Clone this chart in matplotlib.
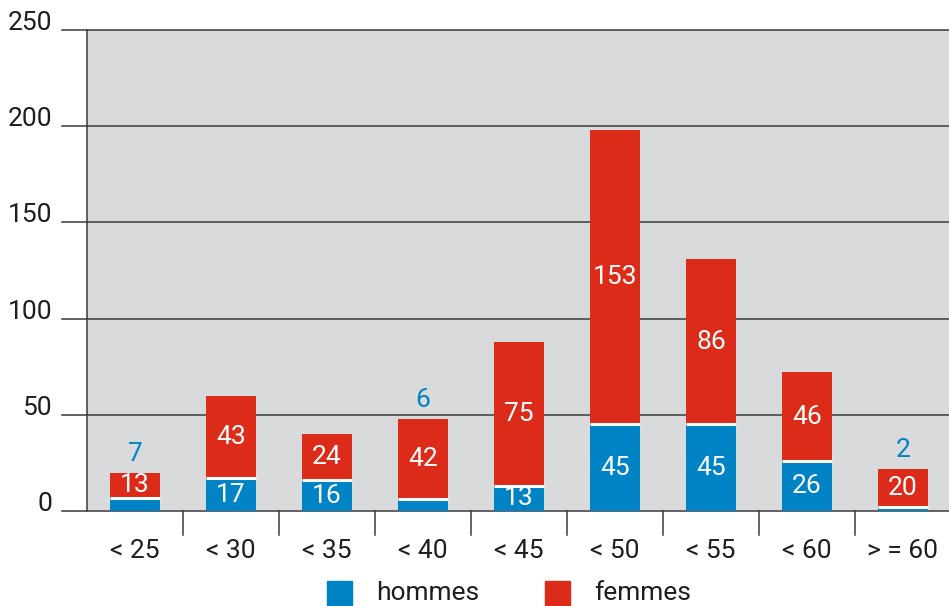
import matplotlib.pyplot as plt
from matplotlib.patches import Rectangle


# Data
CATEGORIES = ["< 25", "< 30", "< 35", "< 40", "< 45", "< 50", "< 55", "< 60", "> = 60"]
HOMMES = [7, 17, 16, 6, 13, 45, 45, 26, 2]
FEMMES = [13, 43, 24, 42, 75, 153, 86, 46, 20]
Y_TICKS = [0, 50, 100, 150, 200, 250]

BLUE = "#0083c4"
RED = "#dc2c19"
GRAY = "#d9dadc"
LINE = "#3a3a3a"
TEXT = "#1e1e1e"
FONT = 19
BAR_W = 0.52

plt.rcParams["font.family"] = ["Roboto", "Liberation Sans", "DejaVu Sans"]

W, H = 949, 606
fig = plt.figure(figsize=(W / 100, H / 100), dpi=100)
ax = fig.add_axes([87 / W, 95 / H, 862 / W, 481 / H])
ax.set_facecolor(GRAY)

x = list(range(len(CATEGORIES)))

ax.bar(x, HOMMES, width=BAR_W, color=BLUE, linewidth=0, zorder=3)
ax.bar(x, FEMMES, width=BAR_W, bottom=HOMMES, color=RED, linewidth=0,
       zorder=3)
# thin white gap between the two segments
ax.hlines(HOMMES, [i - BAR_W / 2 for i in x], [i + BAR_W / 2 for i in x],
          color="white", linewidth=2.2, zorder=3.5)

# value labels
for i, (h, f) in enumerate(zip(HOMMES, FEMMES)):
    ax.text(i, h + f / 2, str(f), ha="center", va="center",
            color="white", fontsize=FONT, zorder=4)
    if h >= 10:
        ax.text(i, h / 2, str(h), ha="center", va="center",
                color="white", fontsize=FONT, zorder=4)
    else:
        ax.annotate(str(h), (i, h + f), xytext=(0, 5),
                    textcoords="offset points", ha="center", va="bottom",
                    color=BLUE, fontsize=FONT, zorder=4)

ax.set_xlim(-0.5, 8.48)
ax.set_ylim(0, 250)

# horizontal grid, reaching out past the left edge
for t in Y_TICKS:
    ax.axhline(t, xmin=-25 / 862, xmax=1, color=LINE, linewidth=1.1,
               clip_on=False, zorder=2)
    ax.text(-35 / 862, t, str(t), transform=ax.get_yaxis_transform(),
            ha="right", va="baseline", fontsize=FONT, color=TEXT)

# category separators below the axis
for i in range(1, len(CATEGORIES)):
    ax.plot([i - 0.5, i - 0.5], [0, -24 / 481], color=LINE, linewidth=1.1,
            transform=ax.get_xaxis_transform(), clip_on=False)

for i, label in enumerate(CATEGORIES):
    ax.text(i, -40 / 481, label, transform=ax.get_xaxis_transform(),
            ha="center", va="center", fontsize=FONT, color=TEXT)

ax.set_xticks([])
ax.set_yticks([])
for side in ["top", "right", "bottom"]:
    ax.spines[side].set_visible(False)
ax.spines["left"].set_color(LINE)
ax.spines["left"].set_linewidth(1.1)

# legend
for x0, color, label in [(327, BLUE, "hommes"), (545, RED, "femmes")]:
    fig.add_artist(Rectangle((x0 / W, 0), 25 / W, 25 / H,
                             transform=fig.transFigure, color=color))
    fig.text((x0 + 49) / W, 13 / H, label, ha="left", va="center",
             fontsize=FONT, color=TEXT)

fig.savefig("out.png", dpi=100)
